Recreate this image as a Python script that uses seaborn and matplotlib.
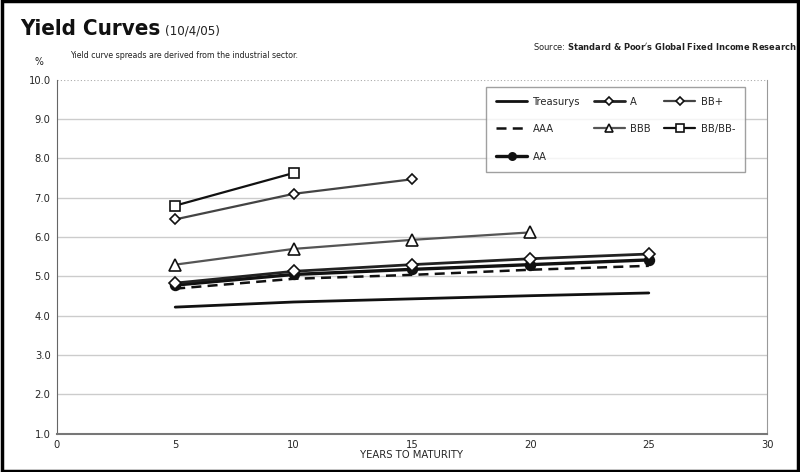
import matplotlib
matplotlib.use("Agg")
import matplotlib.pyplot as plt
import pandas as pd
import seaborn as sns
from matplotlib.patches import Rectangle
from matplotlib.ticker import MultipleLocator

# data (yield %, by years to maturity)
years = [5, 10, 15, 20, 25]
treasurys = [4.22, 4.35, 4.43, 4.51, 4.58]
aaa = [4.69, 4.94, 5.04, 5.17, 5.27]
aa = [4.78, 5.05, 5.18, 5.30, 5.42]
a = [4.83, 5.13, 5.30, 5.45, 5.57]
bbb = [5.30, 5.70, 5.93, 6.12]
bb_plus = [6.45, 7.10, 7.47]
bb_minus = [6.80, 7.63]

series = [
    ("Treasurys", treasurys),
    ("AAA", aaa),
    ("AA", aa),
    ("A", a),
    ("BBB", bbb),
    ("BB+", bb_plus),
    ("BB/BB-", bb_minus),
]

styles = {
    "Treasurys": dict(color="#111111", lw=2.0, ls="-", marker=None),
    "AAA": dict(color="#111111", lw=1.8, ls=(0, (4, 2.5)), marker=None),
    "AA": dict(color="#111111", lw=2.4, ls="-", marker="o", mfc="#111111", ms=7),
    "A": dict(color="#222222", lw=2.0, ls="-", marker="D", mfc="white", ms=6),
    "BBB": dict(color="#555555", lw=1.6, ls="-", marker="^", mfc="white", ms=8),
    "BB+": dict(color="#444444", lw=1.6, ls="-", marker="D", mfc="white", ms=5),
    "BB/BB-": dict(color="#111111", lw=1.6, ls="-", marker="s", mfc="white", ms=7),
}

rows = []
for name, vals in series:
    for x, y in zip(years, vals):
        rows.append([name, x, y])
df = pd.DataFrame(rows, columns=["Rating", "Years", "Yield"])

sns.set_style("white")
plt.rcParams["font.family"] = ["Liberation Sans Narrow", "DejaVu Sans"]
plt.rcParams["font.stretch"] = "condensed"

fig = plt.figure(figsize=(8, 4.72), dpi=100)
ax = fig.add_axes([0.071, 0.081, 0.888, 0.750])

for name, _ in series:
    st = styles[name]
    sub = df[df["Rating"] == name]
    sns.lineplot(data=sub, x="Years", y="Yield", ax=ax, label=name,
                 color=st["color"], linewidth=st["lw"], linestyle=st["ls"],
                 marker=st["marker"], markersize=st.get("ms", 6),
                 markerfacecolor=st.get("mfc", "white"),
                 markeredgecolor="#111111", markeredgewidth=1.2)

ax.set_xlim(0, 30)
ax.set_ylim(1.0, 10.0)
ax.xaxis.set_major_locator(MultipleLocator(5))
ax.xaxis.set_minor_locator(MultipleLocator(1))
ax.set_yticks([1, 2, 3, 4, 5, 6, 7, 8, 9, 10])
ax.set_yticklabels(["%.1f" % v for v in range(1, 11)])

for v in range(2, 10):
    ax.axhline(v, color="#cccccc", lw=1.0, zorder=0)
ax.axhline(10, color="#aaaaaa", lw=0.8, ls=(0, (1, 2)), zorder=0)

ax.spines["top"].set_visible(False)
ax.spines["right"].set_color("#999999")
ax.spines["left"].set_color("#666666")
ax.spines["bottom"].set_color("#777777")
ax.spines["bottom"].set_linewidth(1.5)

ax.tick_params(axis="both", which="major", direction="inout", length=5,
               width=0.8, color="#444444", labelsize=8, pad=2)
ax.tick_params(axis="x", which="minor", direction="inout", length=4,
               width=0.8, color="#444444")
ax.set_xlabel("YEARS TO MATURITY", fontsize=8, labelpad=0)
ax.set_ylabel("")

leg = ax.legend(loc="upper right", bbox_to_anchor=(0.977, 0.995), ncol=3,
                fontsize=8, frameon=True, fancybox=False, edgecolor="#888888",
                handlelength=2.8, columnspacing=1.2, labelspacing=1.55,
                borderpad=0.9, handletextpad=0.5, markerscale=0.75)
leg.get_frame().set_linewidth(1.0)

fig.text(0.025, 0.925, "Yield Curves", fontsize=16, fontweight="bold",
         color="#111111")
fig.text(0.206, 0.927, "(10/4/05)", fontsize=9.5, color="#222222")
fig.text(0.087, 0.877, "Yield curve spreads are derived from the industrial sector.",
         fontsize=6.3, color="#222222")
fig.text(0.043, 0.862, "%", fontsize=7.5, color="#222222")
fig.text(0.996, 0.895, "Source: $\\bf{Standard\\ &\\ Poor's\\ Global\\ Fixed\\ Income\\ Research}$",
         fontsize=6.7, color="#222222", ha="right")

fig.patches.append(Rectangle((0.002, 0.003), 0.996, 0.994, transform=fig.transFigure,
                             fill=False, edgecolor="black", linewidth=2.5))

fig.savefig("out.png", dpi=100)
